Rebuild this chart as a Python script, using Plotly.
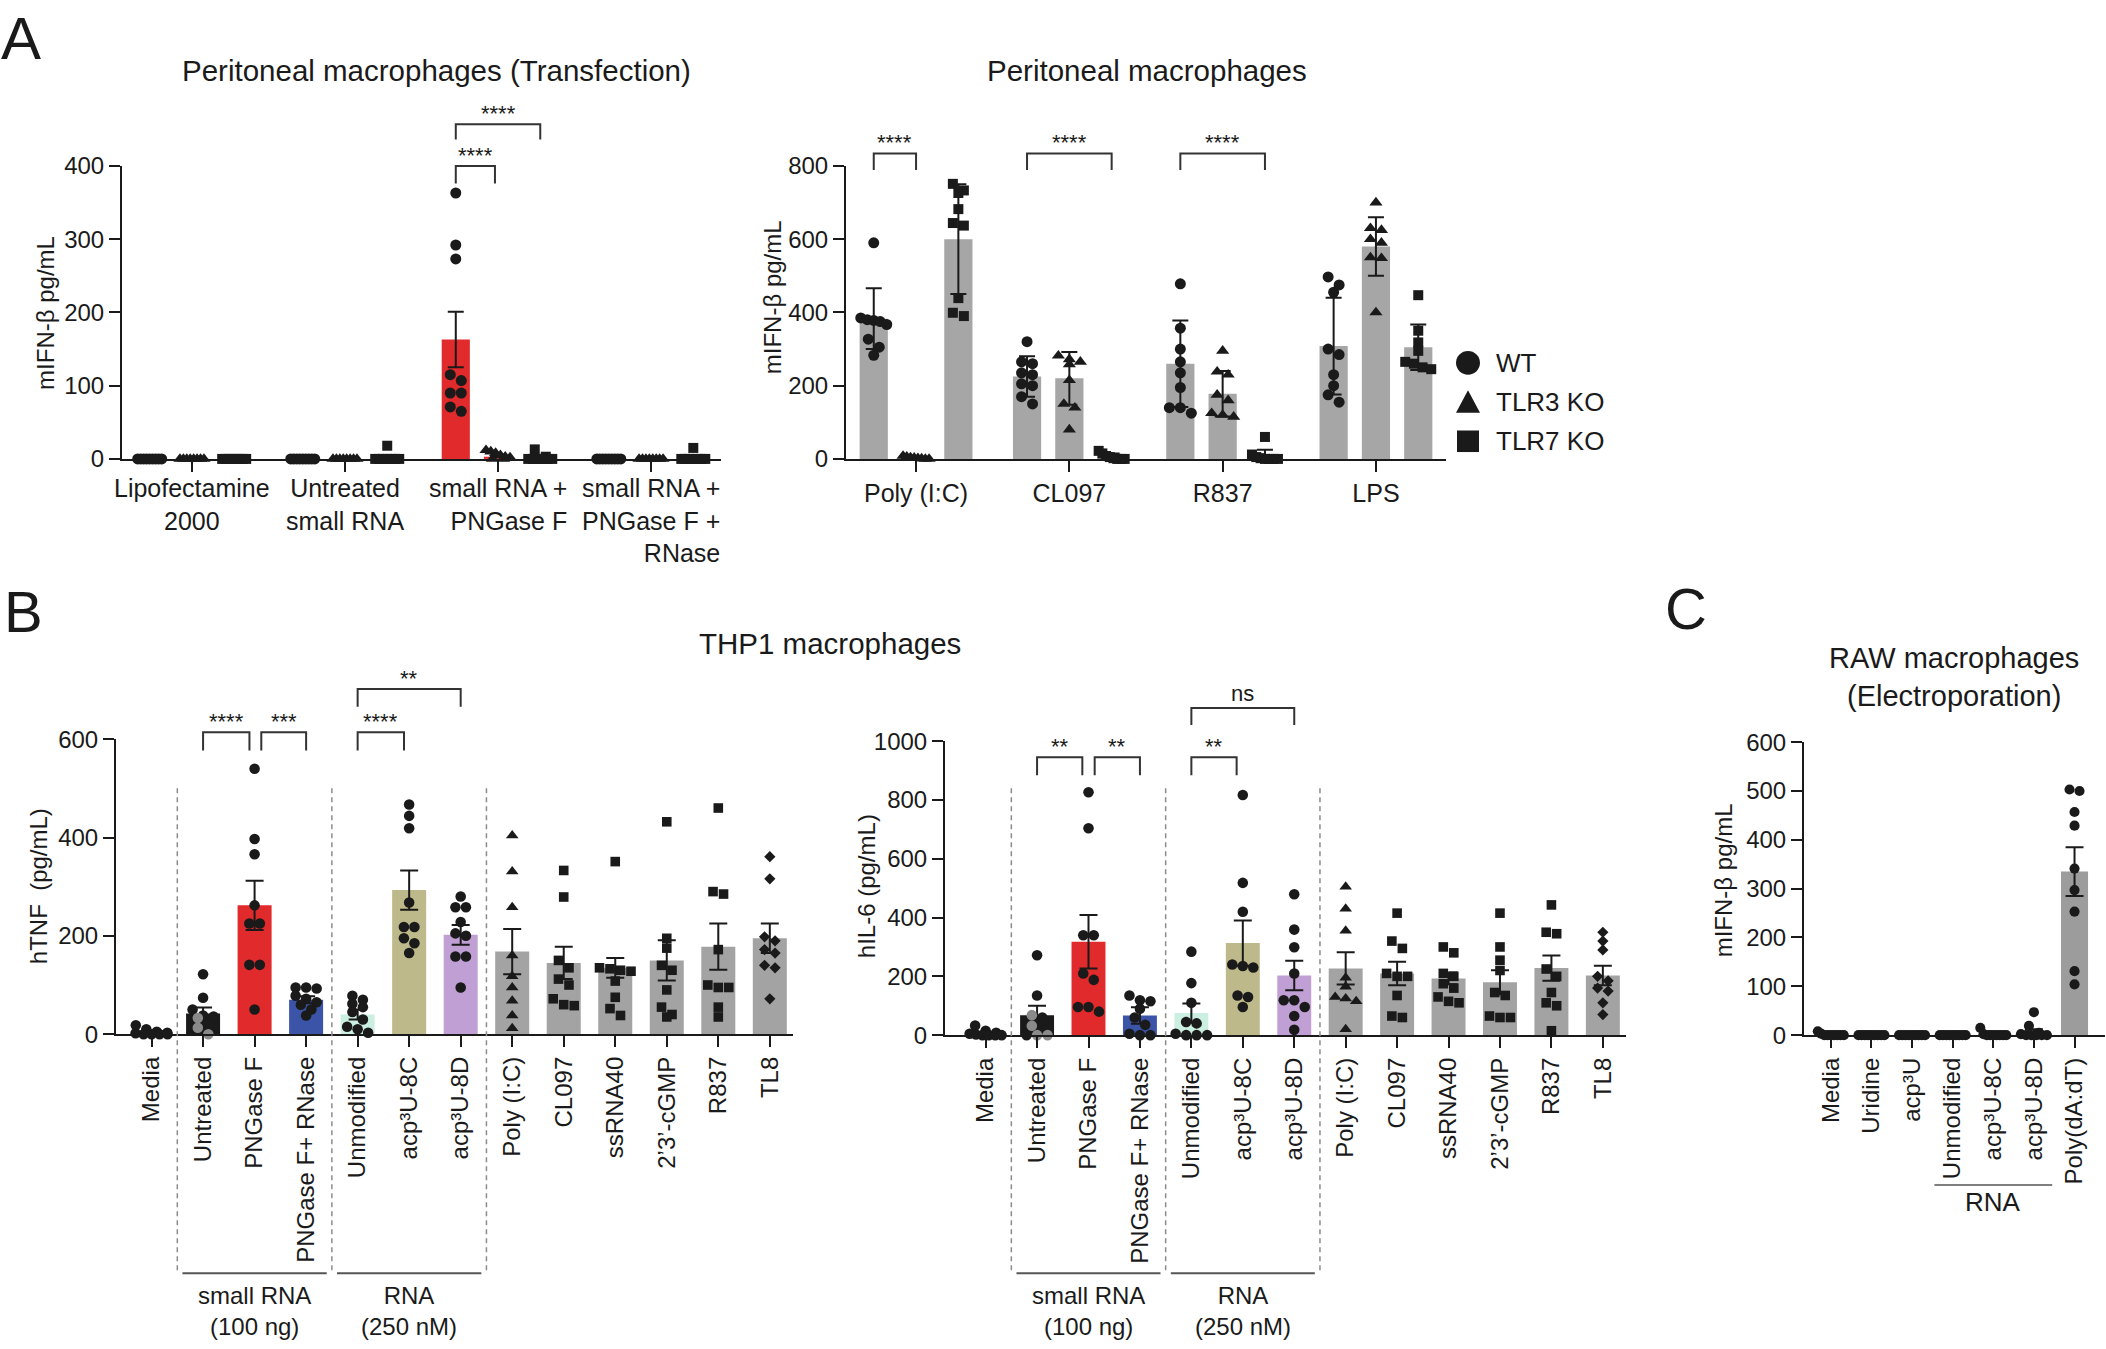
import plotly.graph_objects as go

W, H = 2106, 1349
FONT = "Liberation Sans, Arial, Helvetica, sans-serif"
INK = "#1a1a1a"

# ======================= DATA =======================
# ---- Panel A (left): Peritoneal macrophages (Transfection)
A1_groups = ["Lipofectamine<br>2000", "Untreated<br>small RNA",
             "small RNA +<br>PNGase F", "small RNA +<br>PNGase F +<br>RNase"]
A1_series = ["WT", "TLR3 KO", "TLR7 KO"]
A1_wt_mean = [0, 0, 163, 0]
A1_wt_err = [0, 0, 38, 0]
A1_tlr3_mean = [0, 0, 3, 0]
A1_tlr3_err = [0, 0, 0, 0]
A1_tlr7_mean = [0, 2, 2, 2]
A1_tlr7_err = [0, 0, 0, 0]
A1_wt_pts = [[0, 0, 0, 0, 0, 0, 0, 0, 0],
             [0, 0, 0, 0, 0, 0, 0, 0, 0],
             [363, 292, 273, 115, 107, 90, 90, 71, 65],
             [0, 0, 0, 0, 0, 0, 0, 0, 0]]
A1_tlr3_pts = [[0, 0, 0, 0, 0, 0, 0, 0],
               [0, 0, 0, 0, 0, 0, 0, 0],
               [12, 10, 8, 5, 3, 2, 0, 0],
               [0, 0, 0, 0, 0, 0, 0, 0]]
A1_tlr7_pts = [[0, 0, 0, 0, 0, 0, 0, 0],
               [18, 0, 0, 0, 0, 0, 0, 0],
               [13, 3, 0, 0, 0, 0, 0, 0],
               [15, 0, 0, 0, 0, 0, 0, 0]]
A1_yticks = [0, 100, 200, 300, 400]

# ---- Panel A (right): Peritoneal macrophages
A2_groups = ["Poly (I:C)", "CL097", "R837", "LPS"]
A2_wt_mean = [383, 225, 260, 308]
A2_wt_sd = [83, 55, 118, 132]
A2_tlr3_mean = [3, 220, 178, 580]
A2_tlr3_sd = [3, 72, 62, 80]
A2_tlr7_mean = [600, 5, 5, 305]
A2_tlr7_sd = [150, 10, 20, 62]
A2_wt_pts = [[590, 385, 380, 378, 375, 367, 327, 305, 283],
             [320, 265, 260, 235, 230, 205, 200, 170, 150],
             [478, 357, 300, 265, 235, 195, 140, 140, 125],
             [497, 475, 455, 300, 285, 230, 200, 175, 155]]
A2_tlr3_pts = [[8, 6, 4, 3, 2, 1, 0, 0],
               [282, 272, 265, 258, 215, 150, 140, 80],
               [295, 238, 230, 175, 160, 125, 120, 115],
               [700, 630, 625, 600, 590, 550, 548, 400]]
A2_tlr7_pts = [[751, 733, 726, 682, 644, 637, 439, 399, 390],
               [22, 15, 8, 5, 2, 0, 0, 0],
               [60, 12, 5, 2, 0, 0, 0, 0],
               [447, 350, 318, 295, 265, 260, 250, 245]]
A2_yticks = [0, 200, 400, 600, 800]

# ---- Panel B: THP1 macrophages
B_cats = ["Media", "Untreated", "PNGase F", "PNGase F+ RNase", "Unmodified",
          "acp³U-8C", "acp³U-8D", "Poly (I:C)", "CL097", "ssRNA40",
          "2’3’-cGMP", "R837", "TL8"]
B_symbols = ["circle", "circle", "circle", "circle", "circle", "circle", "circle",
             "triangle-up", "square", "square", "square", "square", "diamond"]
TNF_mean = [3, 42, 262, 70, 40, 293, 202, 168, 145, 135, 150, 178, 195]
TNF_sem = [2, 12, 50, 7, 10, 40, 20, 46, 33, 20, 41, 47, 30]
TNF_pts = [[18, 10, 5, 3, 2, 0, 0, 0, 0],
           [122, 74, 50, 38, 36, 22, 33, 13, 0],
           [540, 397, 366, 262, 225, 225, 141, 141, 50],
           [95, 95, 93, 78, 72, 65, 60, 50, 38],
           [78, 70, 62, 55, 45, 30, 15, 10, 3],
           [467, 444, 419, 268, 218, 218, 195, 185, 165],
           [280, 258, 258, 228, 205, 200, 158, 158, 95],
           [404, 331, 258, 160, 118, 95, 68, 38, 12],
           [333, 279, 150, 135, 112, 100, 72, 60, 58],
           [351, 135, 133, 130, 128, 108, 75, 52, 38],
           [432, 195, 175, 140, 130, 90, 55, 40, 35],
           [460, 290, 285, 172, 100, 95, 95, 55, 35],
           [361, 316, 198, 190, 172, 165, 140, 135, 72]]
TNF_untreated_gray = [False, False, False, False, False, False, True, True, True]
TNF_yticks = [0, 200, 400, 600]

IL6_mean = [5, 68, 318, 67, 75, 313, 203, 227, 210, 193, 180, 228, 203]
IL6_sem = [3, 32, 91, 28, 33, 77, 50, 55, 40, 20, 41, 43, 33]
IL6_pts = [[33, 15, 8, 5, 2, 0, 0, 0, 0],
           [272, 135, 60, 15, 0, 68, 32, 0, 0],
           [826, 704, 340, 340, 210, 188, 96, 96, 80],
           [135, 119, 115, 90, 60, 35, 5, 0, 0],
           [284, 177, 110, 45, 40, 5, 0, 0, 0],
           [817, 518, 420, 240, 235, 230, 135, 130, 96],
           [479, 359, 299, 210, 119, 119, 96, 65, 18],
           [505, 430, 355, 195, 165, 130, 125, 115, 20],
           [415, 320, 295, 210, 200, 200, 135, 65, 60],
           [300, 280, 210, 200, 175, 160, 130, 115, 110],
           [415, 300, 255, 220, 145, 135, 65, 60, 60],
           [443, 350, 345, 225, 200, 145, 110, 100, 15],
           [350, 320, 290, 200, 185, 160, 150, 110, 70]]
IL6_untreated_gray = [False, False, False, False, False, True, True, True, True]
IL6_yticks = [0, 200, 400, 600, 800, 1000]

B_groups = ["small RNA<br>(100 ng)", "RNA<br>(250 nM)"]
B_group_span = [(1, 3), (4, 6)]

# ---- Panel C: RAW macrophages (Electroporation)
C_cats = ["Media", "Uridine", "acp³U", "Unmodified", "acp³U-8C", "acp³U-8D", "Poly(dA:dT)"]
C_mean = [2, 0, 0, 0, 2, 7, 335]
C_sem = [1, 0, 0, 0, 2, 5, 50]
C_pts = [[8, 3, 0, 0, 0, 0, 0, 0, 0],
         [0, 0, 0, 0, 0, 0, 0, 0, 0],
         [0, 0, 0, 0, 0, 0, 0, 0, 0],
         [0, 0, 0, 0, 0, 0, 0, 0, 0],
         [15, 2, 0, 0, 0, 0, 0, 0, 0],
         [47, 19, 5, 2, 0, 0, 0, 0, 0],
         [503, 500, 457, 429, 341, 297, 253, 131, 104]]
C_yticks = [0, 100, 200, 300, 400, 500, 600]
C_group = "RNA"
C_group_span = (3, 5)

# ======================= LAYOUT GEOMETRY (pixels) =======================
BOX = {
    "A1": dict(x0=122, x1=721, yb=454, yt=155, xr=(-0.457, 3.457), yr=(0, 400), xa="x", ya="y"),
    "A2": dict(x0=846, x1=1446, yb=454, yt=155, xr=(-0.457, 3.457), yr=(0, 800), xa="x2", ya="y2"),
    "B1": dict(x0=116, x1=793, yb=1041, yt=740, xr=(-0.69, 12.45), yr=(0, 600), xa="x3", ya="y3"),
    "B2": dict(x0=945, x1=1626, yb=1042, yt=742, xr=(-0.79, 12.45), yr=(0, 1000), xa="x4", ya="y4"),
    "C":  dict(x0=1804, x1=2105, yb=1042, yt=743, xr=(-0.66, 6.75), yr=(0, 600), xa="x5", ya="y5"),
}
MSIZE = {"circle": 11, "triangle-up": 11.5, "square": 10, "diamond": 9}


def pxx(k):
    b = BOX[k]
    return (b["x1"] - b["x0"]) / (b["xr"][1] - b["xr"][0])


def pxy(k):
    b = BOX[k]
    return (b["yb"] - b["yt"]) / (b["yr"][1] - b["yr"][0])


def X(k, v):  # data -> paper x
    b = BOX[k]
    return (b["x0"] + (v - b["xr"][0]) * pxx(k)) / W


def Y(k, v):  # data -> paper y
    b = BOX[k]
    return 1 - (b["yb"] - (v - b["yr"][0]) * pxy(k)) / H


def PX(p):
    return p / W


def PY(p):
    return 1 - p / H


def swarm(vals, center, k, d, maxhw):
    order = sorted(range(len(vals)), key=lambda i: -vals[i])
    rows = []
    for i in order:
        if rows and (vals[rows[-1][0]] - vals[i]) * pxy(k) < 0.75 * d:
            rows[-1].append(i)
        else:
            rows.append([i])
    xs = [center] * len(vals)
    for row in rows:
        n = len(row)
        step = 0 if n == 1 else min(d, 2 * maxhw / (n - 1))
        for j, i in enumerate(row):
            xs[i] = center + (j - (n - 1) / 2) * step / pxx(k)
    return xs


fig = go.Figure()
shapes, annos = [], []

RED, BLUE, MINT, KHAKI, LAV, GRAY, DARK = "#e02a2b", "#3c54a7", "#cbefe1", "#bdb98b", "#c09fd5", "#a3a3a3", "#1a1a1a"


def add_bars(k, xs, means, errs, colors, width, capw):
    b = BOX[k]
    fig.add_trace(go.Bar(x=xs, y=means, width=width, xaxis=b["xa"], yaxis=b["ya"],
                         marker=dict(color=colors, line=dict(width=0)),
                         error_y=dict(type="data", array=errs, visible=True, color=INK,
                                      thickness=2, width=capw),
                         showlegend=False, hoverinfo="skip"))


def add_points(k, xs, ys, symbol, color, scale=1.0):
    if not xs:
        return
    b = BOX[k]
    fig.add_trace(go.Scatter(x=xs, y=ys, mode="markers", xaxis=b["xa"], yaxis=b["ya"],
                             marker=dict(symbol=symbol, size=MSIZE[symbol] * scale, color=color, opacity=1,
                                         line=dict(width=0)),
                             cliponaxis=False, showlegend=False, hoverinfo="skip"))


def bracket(k, xa, xb, ytop, yleg, text):
    shapes.append(dict(type="path", xref="paper", yref="paper",
                       path=f"M {X(k, xa)},{Y(k, yleg)} L {X(k, xa)},{Y(k, ytop)} L {X(k, xb)},{Y(k, ytop)} L {X(k, xb)},{Y(k, yleg)}",
                       line=dict(color="#333333", width=2)))
    annos.append(dict(x=(X(k, xa) + X(k, xb)) / 2, y=Y(k, ytop), xref="paper", yref="paper",
                      text=text, showarrow=False, xanchor="center", yanchor="bottom",
                      yshift=-4 if "*" in text else 0, font=dict(size=22, color=INK)))


# ---------- Panel A left ----------
OFF = 0.276
A_BW = 0.184
A_series_data = [
    (A1_wt_mean, A1_wt_err, A1_wt_pts, -OFF, "circle"),
    (A1_tlr3_mean, A1_tlr3_err, A1_tlr3_pts, 0.0, "triangle-up"),
    (A1_tlr7_mean, A1_tlr7_err, A1_tlr7_pts, OFF, "square"),
]
A1_colors = [GRAY, GRAY, RED, GRAY]
for mean, err, pts, off, sym in A_series_data:
    xs = [g + off for g in range(len(A1_groups))]
    add_bars("A1", xs, mean, err, A1_colors, A_BW, 8)
for mean, err, pts, off, sym in A_series_data:
    px_, py_ = [], []
    for g, p in enumerate(pts):
        px_ += swarm(p, g + off, "A1", 11, 12)
        py_ += p
    add_points("A1", px_, py_, sym, INK)

bracket("A1", 2 - OFF, 2 - 0.02, 400, 376, "****")
bracket("A1", 2 - OFF, 2 + OFF, 457, 436, "****")

for g, lab in enumerate(A1_groups):
    annos.append(dict(x=X("A1", g), y=PY(467), xref="paper", yref="paper", text=lab,
                      showarrow=False, xanchor="center", yanchor="top",
                      align="center" if g < 2 else "right", font=dict(size=25, color=INK)))

# ---------- Panel A right ----------
A2_series_data = [
    (A2_wt_mean, A2_wt_sd, A2_wt_pts, -OFF, "circle"),
    (A2_tlr3_mean, A2_tlr3_sd, A2_tlr3_pts, 0.0, "triangle-up"),
    (A2_tlr7_mean, A2_tlr7_sd, A2_tlr7_pts, OFF, "square"),
]
for mean, err, pts, off, sym in A2_series_data:
    xs = [g + off for g in range(len(A2_groups))]
    add_bars("A2", xs, mean, err, "#a6a6a6", A_BW, 8)
for mean, err, pts, off, sym in A2_series_data:
    px_, py_ = [], []
    for g, p in enumerate(pts):
        px_ += swarm(p, g + off, "A2", 11, 13)
        py_ += p
    add_points("A2", px_, py_, sym, INK)

bracket("A2", 0 - OFF, 0.0, 834, 789, "****")
bracket("A2", 1 - OFF, 1 + OFF, 834, 789, "****")
bracket("A2", 2 - OFF, 2 + OFF, 834, 789, "****")

# legend (drawn)
leg_y = [356, 396, 436]
cx, r = 1468, 12
shapes.append(dict(type="circle", xref="paper", yref="paper", x0=PX(cx - r), x1=PX(cx + r),
                   y0=PY(leg_y[0] + r), y1=PY(leg_y[0] - r), fillcolor=INK, line=dict(width=0)))
shapes.append(dict(type="path", xref="paper", yref="paper",
                   path=f"M {PX(cx-12)},{PY(leg_y[1]+11)} L {PX(cx+12)},{PY(leg_y[1]+11)} L {PX(cx)},{PY(leg_y[1]-12)} Z",
                   fillcolor=INK, line=dict(width=0)))
shapes.append(dict(type="rect", xref="paper", yref="paper", x0=PX(cx - 11), x1=PX(cx + 11),
                   y0=PY(leg_y[2] + 11), y1=PY(leg_y[2] - 11), fillcolor=INK, line=dict(width=0)))
for yy, lab in zip(leg_y, A1_series):
    annos.append(dict(x=PX(1494), y=PY(yy), xref="paper", yref="paper", text=lab, showarrow=False,
                      xanchor="left", yanchor="middle", font=dict(size=26, color=INK)))

# ---------- Panel B ----------
B_colors = [DARK, DARK, RED, BLUE, MINT, KHAKI, LAV] + [GRAY] * 6
B_BW = 0.66


def panel_B(k, mean, sem, pts, gray_flags):
    add_bars(k, list(range(len(B_cats))), mean, sem, B_colors, B_BW, 9)
    groups = {}
    for c, p in enumerate(pts):
        xs = swarm(p, c, k, 10.5, 16)
        for j, (xv, yv) in enumerate(zip(xs, p)):
            col = "#8a8a8a" if (c == 1 and gray_flags[j]) else INK
            key = (B_symbols[c], col)
            groups.setdefault(key, ([], []))
            groups[key][0].append(xv)
            groups[key][1].append(yv)
    for (sym, col), (xs, ys) in groups.items():
        add_points(k, xs, ys, sym, col, 0.96)
    for sep in (0.5, 3.5, 6.5):
        shapes.append(dict(type="line", xref="paper", yref="paper", x0=X(k, sep), x1=X(k, sep),
                           y0=PY(790), y1=PY(1285), line=dict(color="#8c8c8c", width=1.5, dash="5px,4px")))
    for (a, bb), lab in zip(B_group_span, B_groups):
        shapes.append(dict(type="line", xref="paper", yref="paper", x0=X(k, a - 0.4), x1=X(k, bb + 0.4),
                           y0=PY(1285), y1=PY(1285), line=dict(color="#555555", width=2)))
        annos.append(dict(x=(X(k, a) + X(k, bb)) / 2, y=PY(1292), xref="paper", yref="paper", text=lab,
                          showarrow=False, xanchor="center", yanchor="top", font=dict(size=24, color=INK)))


panel_B("B1", TNF_mean, TNF_sem, TNF_pts, TNF_untreated_gray)
panel_B("B2", IL6_mean, IL6_sem, IL6_pts, IL6_untreated_gray)

bracket("B1", 1, 1.9, 614, 577, "****")
bracket("B1", 2.13, 3, 614, 577, "***")
bracket("B1", 4, 4.9, 614, 577, "****")
bracket("B1", 4, 6, 702, 666, "**")
bracket("B2", 1, 1.88, 945, 884, "**")
bracket("B2", 2.12, 3, 945, 884, "**")
bracket("B2", 4, 4.88, 945, 884, "**")
bracket("B2", 4, 6, 1113, 1055, "ns")

# ---------- Panel C ----------
add_bars("C", list(range(len(C_cats))), C_mean, C_sem, "#9c9c9c", 0.665, 9)
cx_, cy_ = [], []
for c, p in enumerate(C_pts):
    cx_ += swarm(p, c, "C", 10, 13)
    cy_ += p
add_points("C", cx_, cy_, "circle", INK, 0.92)
shapes.append(dict(type="line", xref="paper", yref="paper", x0=X("C", C_group_span[0] - 0.45),
                   x1=X("C", C_group_span[1] + 0.45), y0=PY(1195), y1=PY(1195),
                   line=dict(color="#555555", width=1.5)))
annos.append(dict(x=X("C", (C_group_span[0] + C_group_span[1]) / 2), y=PY(1212), xref="paper", yref="paper",
                  text=C_group, showarrow=False, xanchor="center", yanchor="middle", font=dict(size=26, color=INK)))

# ---------- titles, axis titles, panel letters ----------
texts = [
    ("Peritoneal macrophages (Transfection)", 436, 58, 29.5, 0),
    ("Peritoneal macrophages", 1147, 58, 29.5, 0),
    ("THP1 macrophages", 830, 642, 29.5, 0),
    ("RAW macrophages<br>(Electroporation)", 1954, 677, 29, 0),
    ("mIFN-β pg/mL", 46, 305, 24, -90),
    ("mIFN-β pg/mL", 772, 289, 24, -90),
    ("hTNF  (pg/mL)", 38, 890, 24, -90),
    ("hIL-6 (pg/mL)", 866, 890, 24, -90),
    ("mIFN-β pg/mL", 1723, 884, 24, -90),
    ("A", 21, 25, 60, 0),
    ("B", 23, 610, 58, 0),
    ("C", 1686, 607, 58, 0),
]
for t, x, y, s, ang in texts:
    annos.append(dict(x=PX(x), y=PY(y), xref="paper", yref="paper", text=t, showarrow=False,
                      xanchor="center", yanchor="middle", textangle=ang, font=dict(size=s, color=INK)))

# ---------- axes ----------
axis_common = dict(showline=True, linecolor=INK, linewidth=2, ticks="outside", ticklen=11,
                   tickwidth=2, tickcolor=INK, showgrid=False, zeroline=False, fixedrange=True,
                   tickfont=dict(size=24, color=INK, family=FONT))
layout_axes = {}
yt = {"A1": A1_yticks, "A2": A2_yticks, "B1": TNF_yticks, "B2": IL6_yticks, "C": C_yticks}
for i, k in enumerate(["A1", "A2", "B1", "B2", "C"]):
    b = BOX[k]
    sfx = "" if i == 0 else str(i + 1)
    xd = [b["x0"] / W, b["x1"] / W]
    yd = [1 - b["yb"] / H, 1 - b["yt"] / H]
    xa = dict(axis_common, domain=xd, range=list(b["xr"]), anchor="y" + sfx)
    ya = dict(axis_common, domain=yd, range=list(b["yr"]), anchor="x" + sfx,
              tickvals=yt[k], ticktext=[str(v) for v in yt[k]])
    if k == "A1":
        xa.update(tickvals=list(range(len(A1_groups))), showticklabels=False)
    elif k == "A2":
        xa.update(tickvals=list(range(len(A2_groups))), ticktext=A2_groups,
                  tickfont=dict(size=25, color=INK, family=FONT))
    elif k in ("B1", "B2"):
        xa.update(tickvals=list(range(len(B_cats))), ticktext=B_cats, tickangle=-90)
    else:
        xa.update(tickvals=list(range(len(C_cats))), ticktext=C_cats, tickangle=-90)
    layout_axes["xaxis" + sfx] = xa
    layout_axes["yaxis" + sfx] = ya

fig.update_layout(width=W, height=H, autosize=False, margin=dict(l=0, r=0, t=0, b=0),
                  paper_bgcolor="white", plot_bgcolor="white", barmode="overlay",
                  font=dict(family=FONT, color=INK), showlegend=False,
                  shapes=shapes, annotations=annos, **layout_axes)
fig.write_html("out.html", config={"displayModeBar": False},
               post_script="document.body.style.margin='0px';document.body.style.overflow='hidden';")
